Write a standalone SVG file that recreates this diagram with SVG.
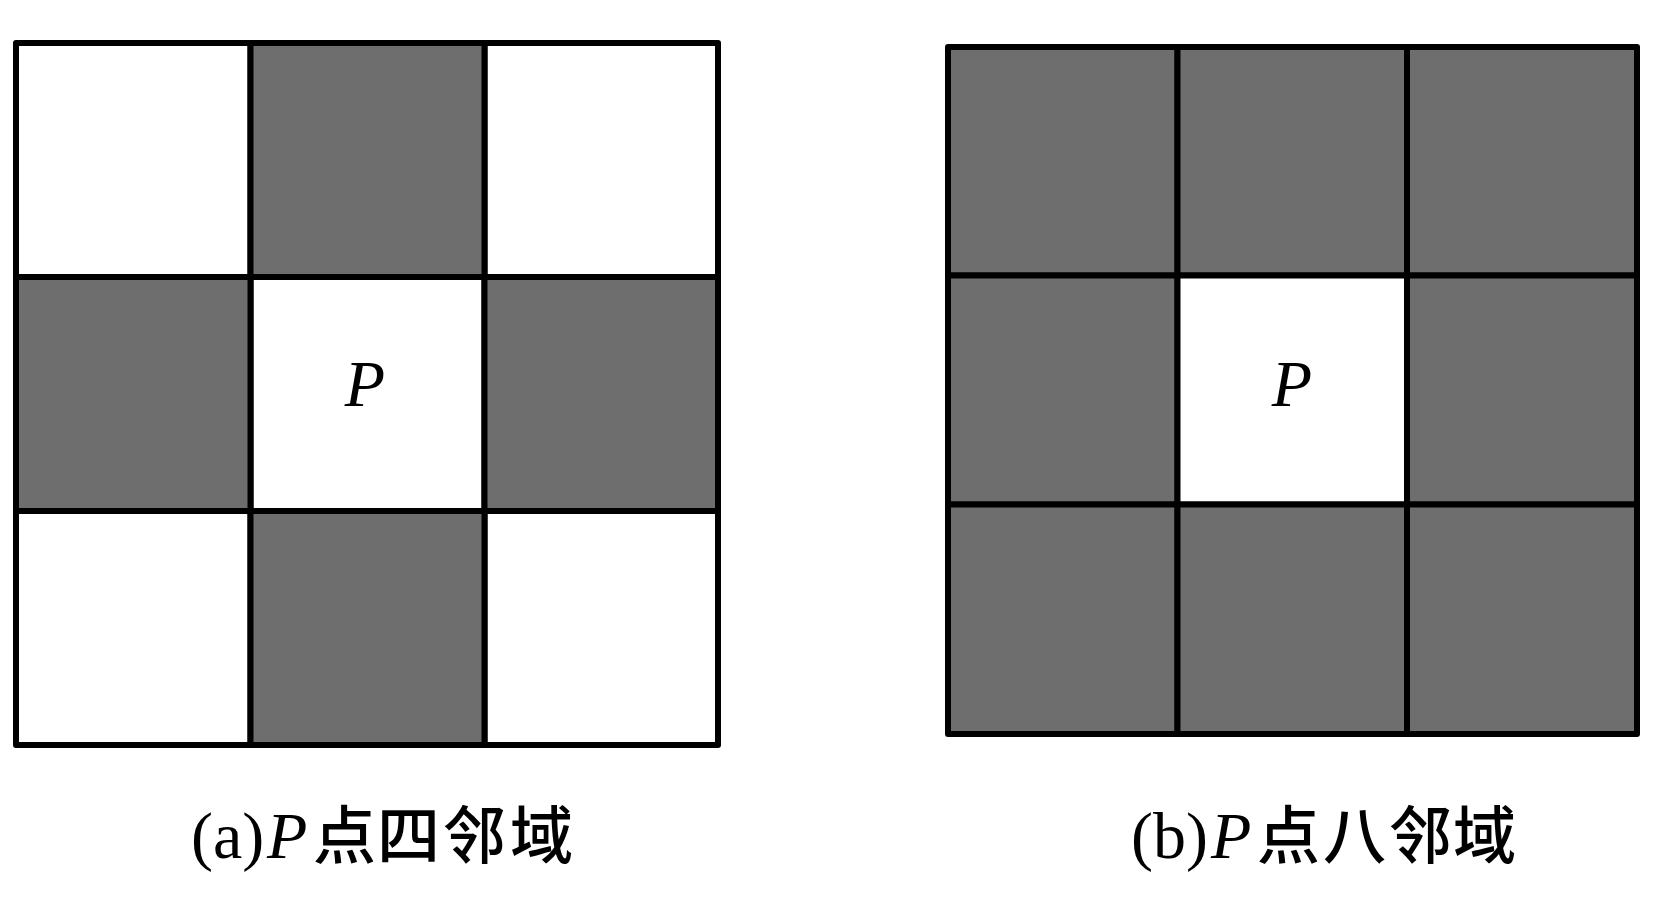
<svg xmlns="http://www.w3.org/2000/svg" width="1654" height="913" viewBox="0 0 1654 913">
<style>
.w{fill:#ffffff;stroke:#000;stroke-width:6;stroke-linejoin:round}
.g{fill:#6e6e6e;stroke:#000;stroke-width:6;stroke-linejoin:round}
.p{font-family:"Liberation Serif","Times New Roman",serif;font-style:italic;font-size:66px;fill:#000}
.lat{font-family:"Liberation Serif","Times New Roman",serif;font-size:66px;fill:#000}
.cjk{font-family:"Noto Sans CJK SC","Noto Sans",sans-serif;font-size:63px;font-weight:500;fill:#000}
</style>
<rect width="1654" height="913" fill="#fff"/>
<g id="grid-a">
<rect id="a-r1c1" class="w" x="16" y="43" width="234.5" height="234"/>
<rect id="a-r1c3" class="w" x="484.5" y="43" width="233.5" height="234"/>
<rect id="a-r3c1" class="w" x="16" y="511" width="234.5" height="234"/>
<rect id="a-r3c3" class="w" x="484.5" y="511" width="233.5" height="234"/>
<rect id="a-r2c2" class="w" x="250.5" y="277" width="234" height="234"/>
<rect id="a-r1c2" class="g" x="250.5" y="43" width="234" height="234"/>
<rect id="a-r2c1" class="g" x="16" y="277" width="234.5" height="234"/>
<rect id="a-r2c3" class="g" x="484.5" y="277" width="233.5" height="234"/>
<rect id="a-r3c2" class="g" x="250.5" y="511" width="234" height="234"/>
<text id="a-P" class="p" x="365" y="406" text-anchor="middle">P</text>
</g>
<g id="grid-b">
<rect id="b-r1c1" class="g" x="948" y="47" width="229.5" height="228.5"/>
<rect id="b-r1c2" class="g" x="1177.5" y="47" width="229.5" height="228.5"/>
<rect id="b-r1c3" class="g" x="1407" y="47" width="230" height="228.5"/>
<rect id="b-r2c1" class="g" x="948" y="275.5" width="229.5" height="229"/>
<rect id="b-r2c2" class="w" x="1177.5" y="275.5" width="229.5" height="229"/>
<rect id="b-r2c3" class="g" x="1407" y="275.5" width="230" height="229"/>
<rect id="b-r3c1" class="g" x="948" y="504.5" width="229.5" height="229.5"/>
<rect id="b-r3c2" class="g" x="1177.5" y="504.5" width="229.5" height="229.5"/>
<rect id="b-r3c3" class="g" x="1407" y="504.5" width="230" height="229.5"/>
<text id="b-P" class="p" x="1292" y="406" text-anchor="middle">P</text>
</g>
<g id="connectors"></g>
<g id="caption-a">
<text x="191" y="858"><tspan class="lat">(a)</tspan><tspan class="p" x="267">P</tspan><tspan class="cjk" x="313">点</tspan><tspan class="cjk" x="377">四</tspan><tspan class="cjk" x="443">邻</tspan><tspan class="cjk" x="510">域</tspan></text>
</g>
<g id="caption-b">
<text x="1131" y="858"><tspan class="lat">(b)</tspan><tspan class="p" x="1211">P</tspan><tspan class="cjk" x="1257">点</tspan><tspan class="cjk" x="1323">八</tspan><tspan class="cjk" x="1389">邻</tspan><tspan class="cjk" x="1453">域</tspan></text>
</g>
</svg>
